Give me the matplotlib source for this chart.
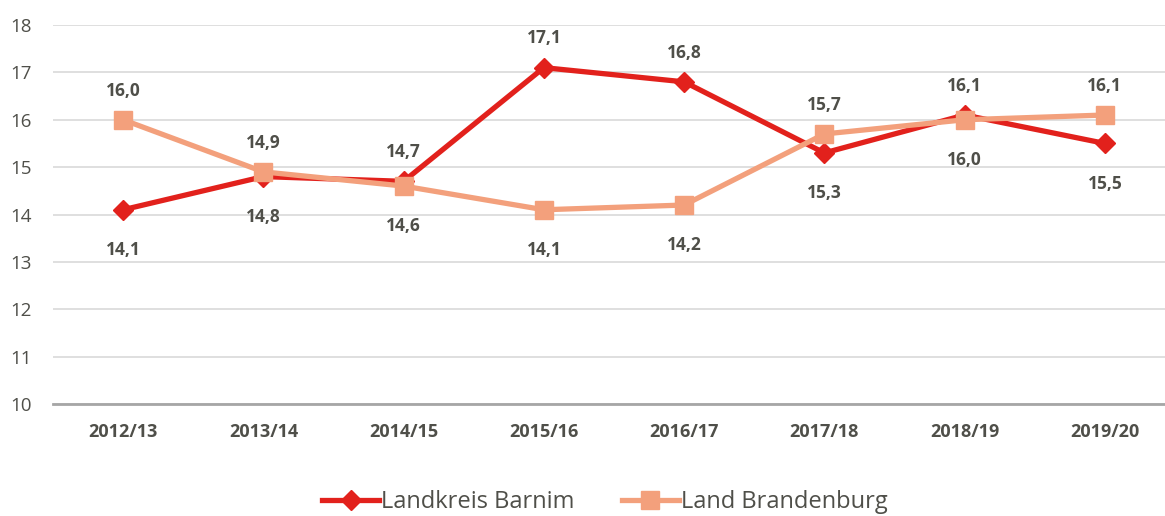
import matplotlib
matplotlib.use("Agg")
import matplotlib.pyplot as plt

years = ["2012/13", "2013/14", "2014/15", "2015/16", "2016/17", "2017/18", "2018/19", "2019/20"]
barnim = [14.1, 14.8, 14.7, 17.1, 16.8, 15.3, 16.1, 15.5]
brandenburg = [16.0, 14.9, 14.6, 14.1, 14.2, 15.7, 16.0, 16.1]

red = "#E2211C"
peach = "#F3A07C"
txt = "#4F4F49"

plt.rcParams['font.family'] = ['Open Sans', 'DejaVu Sans']

fig = plt.figure(figsize=(11.65, 5.16), dpi=100)
ax = fig.add_axes([53 / 1165, 1 - 404 / 516, 1122 / 1165, 379 / 516])

x = list(range(len(years)))
ax.plot(x, barnim, color=red, lw=3.8, marker="D", ms=10, label="Landkreis Barnim", zorder=3)
ax.plot(x, brandenburg, color=peach, lw=3.8, marker="s", ms=13, label="Land Brandenburg", zorder=4)

# Beschriftung: der hoehere Wert oben, der niedrigere unten
for i in x:
    for val, other in ((barnim[i], brandenburg[i]), (brandenburg[i], barnim[i])):
        off = 21 if val > other else -29
        ax.annotate(f"{val:.1f}".replace(".", ","), (i, val), xytext=(0, off),
                    textcoords="offset points", ha="center", va="center",
                    fontsize=12.5, fontweight="bold", color=txt)

ax.set_xlim(-0.5, 7.5)
ax.set_ylim(10, 18)
ax.set_yticks(range(10, 19))
ax.set_xticks(x)
ax.set_xticklabels(years, fontsize=13, fontweight="bold", color=txt)
ax.tick_params(axis="y", labelsize=13.5, colors=txt, length=0, pad=15)
ax.tick_params(axis="x", length=0, pad=14)
ax.grid(axis="y", color="#D9D9D9", lw=1.2)
ax.set_axisbelow(True)
for s in ("top", "right", "left"):
    ax.spines[s].set_visible(False)
ax.spines["bottom"].set_color("#A6A6A6")
ax.spines["bottom"].set_linewidth(2)

fig.legend(loc="center", bbox_to_anchor=(605 / 1165, 1 - 502 / 516), ncol=2, frameon=False,
           fontsize=17, handlelength=2.4, columnspacing=2.0, handletextpad=0.1,
           labelcolor=txt)

fig.savefig("out.png", dpi=100)
